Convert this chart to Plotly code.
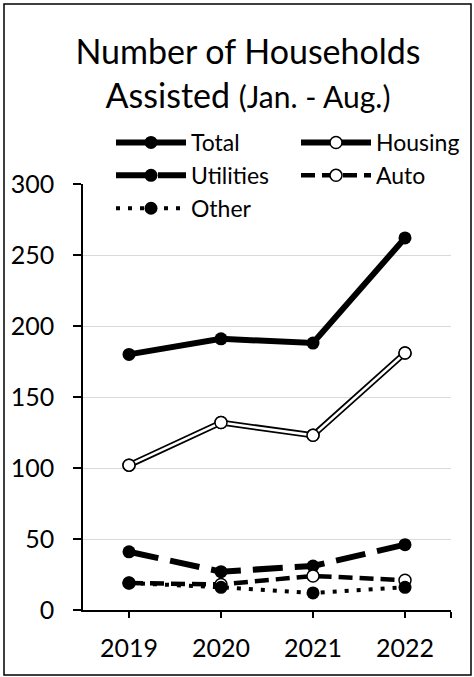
import plotly.graph_objects as go

years = [2019, 2020, 2021, 2022]
total = [180, 191, 188, 262]
housing = [102, 132, 123, 181]
utilities = [41, 27, 31, 46]
auto = [19, 18, 24, 21]
other = [19, 16, 12, 16]
y_ticks = [0, 50, 100, 150, 200, 250, 300]
grid_vals = [50, 100, 150, 200, 250]

W, H = 474, 677
ML, MR, MT, MB = 83, 23, 184, 67
PW, PH = W - ML - MR, H - MT - MB

FONT = "Lato"
fig = go.Figure()

# Total
fig.add_trace(go.Scatter(x=years, y=total, name="Total", mode="lines+markers",
                         line=dict(color="black", width=6),
                         marker=dict(color="black", size=13)))
# Housing (double line)
fig.add_trace(go.Scatter(x=years, y=housing, name="Housing", mode="lines+markers",
                         line=dict(color="black", width=6),
                         marker=dict(color="white", size=12, line=dict(color="black", width=1.5))))
fig.add_trace(go.Scatter(x=years, y=housing, showlegend=False, mode="lines",
                         line=dict(color="white", width=2.5), hoverinfo="skip"))
fig.add_trace(go.Scatter(x=years, y=housing, showlegend=False, mode="markers",
                         marker=dict(color="white", size=12, line=dict(color="black", width=1.5)),
                         hoverinfo="skip"))
# Utilities
fig.add_trace(go.Scatter(x=years, y=utilities, name="Utilities", mode="lines+markers",
                         line=dict(color="black", width=6, dash="30px,12px"),
                         marker=dict(color="black", size=13)))
# Auto
fig.add_trace(go.Scatter(x=years, y=auto, name="Auto", mode="lines+markers",
                         line=dict(color="black", width=4.5, dash="14px,7px"),
                         marker=dict(color="white", size=12, line=dict(color="black", width=1.5))))
# Other
fig.add_trace(go.Scatter(x=years, y=other, name="Other", mode="lines+markers",
                         line=dict(color="black", width=4, dash="4px,8px"),
                         marker=dict(color="black", size=13)))

# outer frame
fig.add_shape(type="rect", xref="paper", yref="paper",
              x0=(4 - ML) / PW, x1=(471 - ML) / PW,
              y0=(H - 675 - MB) / PH, y1=(H - 4 - MB) / PH,
              line=dict(color="black", width=1.5), fillcolor="rgba(0,0,0,0)", layer="below")

fig.update_layout(
    width=W, height=H,
    margin=dict(l=ML, r=MR, t=MT, b=MB, autoexpand=False),
    paper_bgcolor="white", plot_bgcolor="white",
    font=dict(family=FONT, color="black"),
    title=dict(
        text="Number of Households<br>Assisted <span style='font-size:30px'>(Jan. - Aug.)</span>",
        x=248 / W, xanchor="center", xref="container",
        y=1 - 64 / H, yanchor="top", yref="container",
        font=dict(family=FONT, size=34, color="black"),
    ),
    legend=dict(
        orientation="h", x=(481 - ML) / PW, xanchor="right",
        y=1 + (MT - 121) / PH, yanchor="top",
        itemwidth=70,
        entrywidth=100, entrywidthmode="pixels",
        font=dict(family=FONT, size=23, color="black"),
        bgcolor="rgba(0,0,0,0)", traceorder="normal",
    ),
    xaxis=dict(
        range=[2018.5, 2022.5], tickvals=years, tickformat="d",
        showline=True, linecolor="black", linewidth=1.5,
        ticks="outside", ticklen=6, tickwidth=1.5, tickcolor="black",
        minor=dict(tickvals=[2022.5], ticks="outside", ticklen=6, tickwidth=1.5,
                   tickcolor="black", showgrid=False),
        showgrid=False, zeroline=False,
        ticklabelstandoff=9,
        tickfont=dict(family=FONT, size=25, color="black"),
        fixedrange=True,
    ),
    yaxis=dict(
        range=[0, 300], tickvals=y_ticks,
        showline=True, linecolor="black", linewidth=1.5,
        ticks="outside", ticklen=8, tickwidth=1.5, tickcolor="black",
        showgrid=False,
        minor=dict(tickvals=grid_vals, showgrid=True, gridcolor="#d9d9d9", gridwidth=1.2,
                   ticks=""),
        zeroline=False,
        ticklabelstandoff=14,
        tickfont=dict(family=FONT, size=25, color="black"),
        fixedrange=True,
    ),
    showlegend=True,
)

fig.write_html("out.html", config={"displayModeBar": False},
               post_script="document.body.style.margin='0';document.body.style.overflow='hidden';")
